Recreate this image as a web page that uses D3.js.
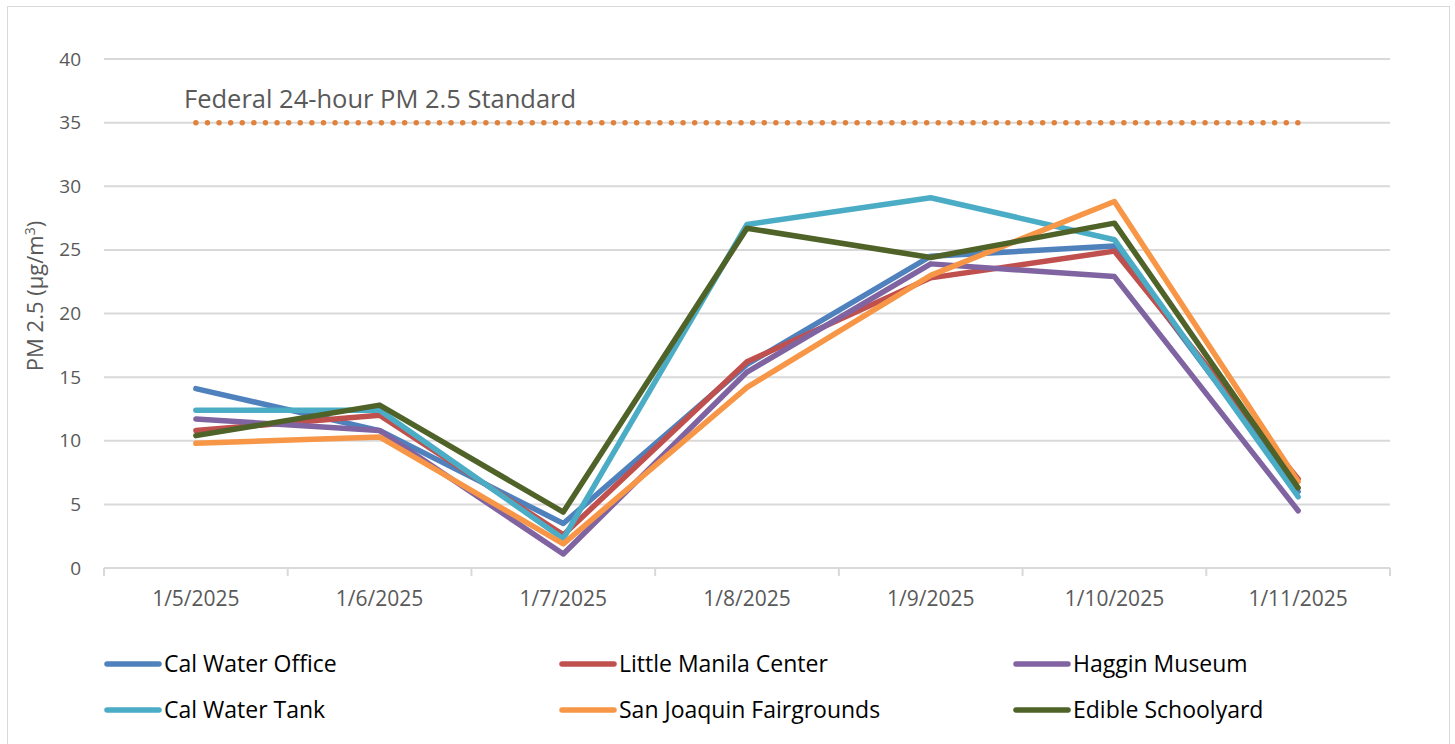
<!DOCTYPE html>
<html>
<head>
<meta charset="utf-8">
<script src="https://cdn.jsdelivr.net/npm/d3@7"></script>
<style>
  body { margin: 0; background: #fff; }
  svg { display: block; font-family: "Open Sans", sans-serif; }
</style>
</head>
<body>
<svg id="chart" width="1455" height="744"></svg>
<script>
// data
var dates = ["1/5/2025", "1/6/2025", "1/7/2025", "1/8/2025", "1/9/2025", "1/10/2025", "1/11/2025"];
var yTicks = [0, 5, 10, 15, 20, 25, 30, 35, 40];

var calWaterOffice  = [14.1, 10.8, 3.5, 16.0, 24.5, 25.3, 6.0];
var littleManila    = [10.8, 12.0, 2.6, 16.2, 22.8, 24.9, 7.0];
var hagginMuseum    = [11.7, 10.8, 1.1, 15.4, 23.9, 22.9, 4.5];
var calWaterTank    = [12.4, 12.4, 2.3, 27.0, 29.1, 25.8, 5.6];
var fairgrounds     = [9.8, 10.3, 1.9, 14.2, 23.0, 28.8, 6.8];
var edibleSchool    = [10.4, 12.8, 4.4, 26.7, 24.4, 27.1, 6.3];
var federalStandard = [35, 35, 35, 35, 35, 35, 35];

var series = [
  {name: "Cal Water Office", values: calWaterOffice, color: "#4F81BD"},
  {name: "Little Manila Center", values: littleManila, color: "#C0504D"},
  {name: "Haggin Museum", values: hagginMuseum, color: "#8064A2"},
  {name: "Cal Water Tank", values: calWaterTank, color: "#4BACC6"},
  {name: "San Joaquin Fairgrounds", values: fairgrounds, color: "#F79646"},
  {name: "Edible Schoolyard", values: edibleSchool, color: "#4F6228"}
];

var svg = d3.select("#chart");

// outer chart border
svg.append("rect")
  .attr("x", 7.5).attr("y", 6.5)
  .attr("width", 1442).attr("height", 745)
  .attr("fill", "none").attr("stroke", "#d9d9d9");

var plotLeft = 104, plotRight = 1390, plotTop = 59, plotBottom = 568;

var x = d3.scaleBand().domain(dates).range([plotLeft, plotRight]);
var y = d3.scaleLinear().domain([0, 40]).range([plotBottom, plotTop]);

// gridlines
svg.append("g").selectAll("line").data(yTicks.filter(d => d > 0))
  .enter().append("line")
  .attr("x1", plotLeft).attr("x2", plotRight)
  .attr("y1", d => y(d)).attr("y2", d => y(d))
  .attr("stroke", "#d9d9d9").attr("stroke-width", 2);

// y axis labels
var yAxis = d3.axisLeft(y).tickValues(yTicks).tickSize(0).tickPadding(23);
var gy = svg.append("g").attr("transform", "translate(" + plotLeft + ",0)").call(yAxis);
gy.select(".domain").remove();
gy.selectAll("text").attr("fill", "#595959").style("font-size", "19px")
  .style("font-family", "'Open Sans', sans-serif");

// x axis with ticks between categories
svg.append("line")
  .attr("x1", plotLeft).attr("x2", plotRight)
  .attr("y1", plotBottom).attr("y2", plotBottom)
  .attr("stroke", "#d9d9d9").attr("stroke-width", 2);
var bounds = dates.map(d => x(d)).concat([plotRight]);
svg.append("g").selectAll("line").data(bounds)
  .enter().append("line")
  .attr("x1", d => d).attr("x2", d => d)
  .attr("y1", plotBottom).attr("y2", plotBottom + 8)
  .attr("stroke", "#d9d9d9").attr("stroke-width", 2);
svg.append("g").selectAll("text").data(dates)
  .enter().append("text")
  .attr("x", d => x(d) + x.bandwidth() / 2)
  .attr("y", 606)
  .attr("text-anchor", "middle")
  .attr("fill", "#595959")
  .style("font-size", "21px")
  .style("font-family", "'Open Sans', sans-serif")
  .text(d => d);

// y axis title
var yt = svg.append("text")
  .attr("transform", "translate(43,296) rotate(-90)")
  .attr("text-anchor", "middle")
  .attr("fill", "#595959")
  .style("font-size", "22px")
  .style("font-family", "'Open Sans', sans-serif");
yt.append("tspan").text("PM 2.5 (µg/m");
yt.append("tspan").attr("dy", -8).style("font-size", "14px").text("3");
yt.append("tspan").attr("dy", 8).text(")");

var line = d3.line()
  .x((d, i) => x(dates[i]) + x.bandwidth() / 2)
  .y(d => y(d));

// federal standard dotted line
svg.append("path")
  .datum(federalStandard)
  .attr("d", line)
  .attr("fill", "none")
  .attr("stroke", "#E0823C")
  .attr("stroke-width", 5.5)
  .attr("stroke-linecap", "round")
  .attr("stroke-dasharray", "0 11.6");

svg.append("text")
  .attr("x", 184).attr("y", 108)
  .attr("fill", "#595959")
  .style("font-size", "25.5px")
  .style("font-family", "'Open Sans', sans-serif")
  .text("Federal 24-hour PM 2.5 Standard");

// station lines
svg.append("g").selectAll("path").data(series)
  .enter().append("path")
  .attr("d", d => line(d.values))
  .attr("fill", "none")
  .attr("stroke", d => d.color)
  .attr("stroke-width", 5.5)
  .attr("stroke-linejoin", "round")
  .attr("stroke-linecap", "round");

// legend
var legX = [105, 560, 1014], legY = [664, 710];
var leg = svg.append("g").selectAll("g").data(series)
  .enter().append("g")
  .attr("transform", (d, i) => "translate(" + legX[i % 3] + "," + legY[Math.floor(i / 3)] + ")");
leg.append("line")
  .attr("x1", 2).attr("x2", 54)
  .attr("stroke", d => d.color)
  .attr("stroke-width", 5.5)
  .attr("stroke-linecap", "round");
leg.append("text")
  .attr("x", 59).attr("y", 8)
  .attr("fill", "#000")
  .style("font-size", "23px")
  .style("font-family", "'Open Sans', sans-serif")
  .text(d => d.name);
</script>
</body>
</html>
